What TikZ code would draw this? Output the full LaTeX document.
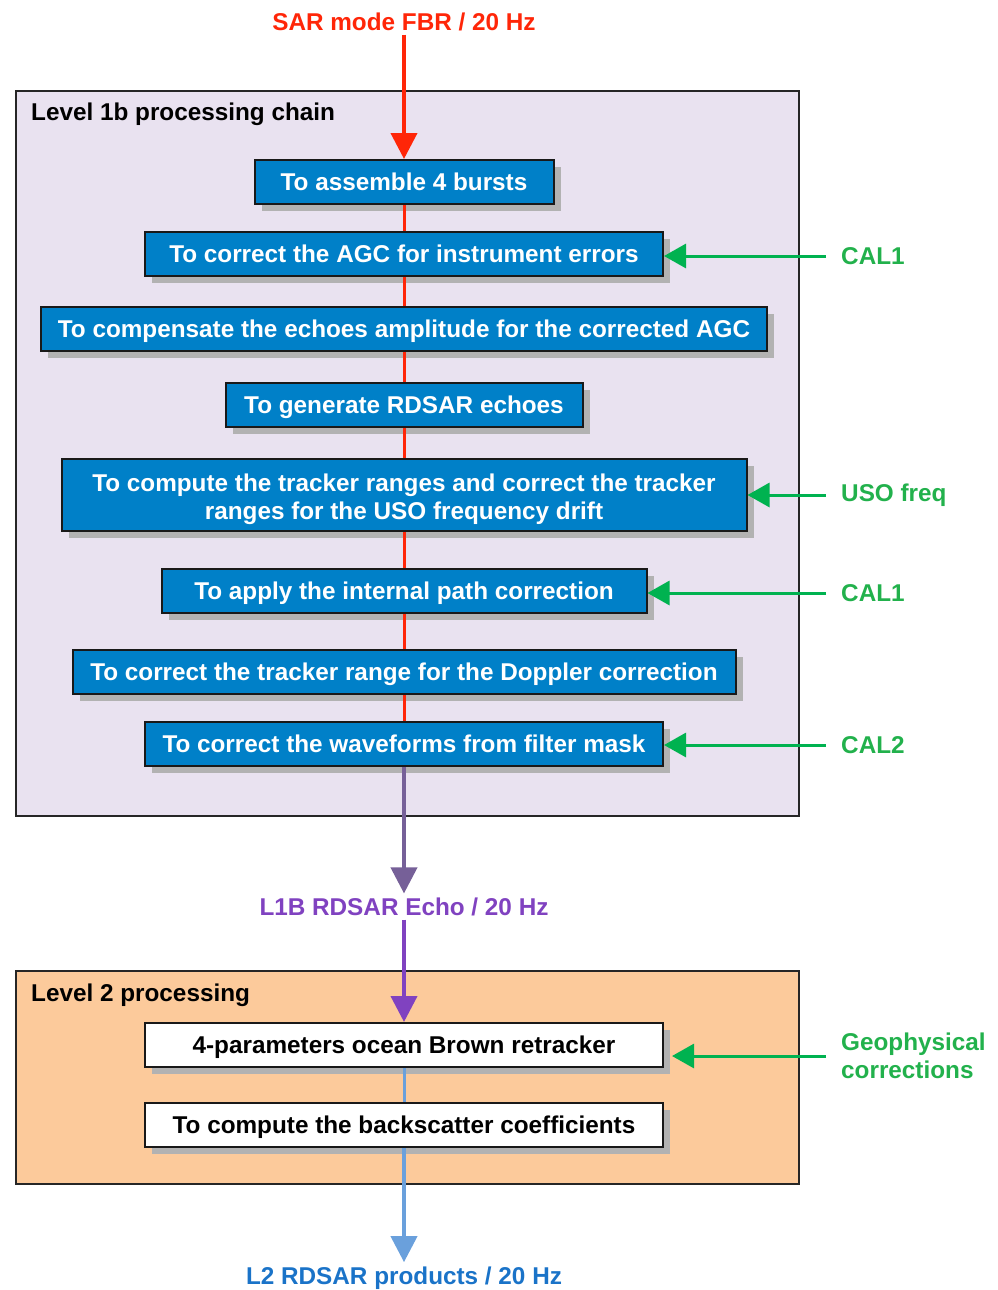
\documentclass[tikz,border=0pt]{standalone}
\usepackage{fontspec}
\setmainfont{Liberation Sans}
\usetikzlibrary{arrows.meta,shadows}
\definecolor{chainred}{RGB}{255,38,8}
\definecolor{lavender}{RGB}{233,226,240}
\definecolor{peach}{RGB}{252,202,155}
\definecolor{boxblue}{RGB}{0,128,200}
\definecolor{feedgreen}{RGB}{0,178,80}
\definecolor{textgreen}{RGB}{34,177,76}
\definecolor{greypurple}{RGB}{118,96,152}
\definecolor{echopurple}{RGB}{128,66,192}
\definecolor{lightblue}{RGB}{106,160,220}
\definecolor{prodblue}{RGB}{26,115,200}
\begin{document}
\begin{tikzpicture}[x=1pt,y=-1pt,
    every node/.style={font=\fontsize{24.3}{28}\selectfont\bfseries},
    panel/.style={draw=black!85,line width=2pt,anchor=north west,inner sep=0pt},
    stepbox/.style={draw=black!90,line width=2pt,fill=boxblue,text=white,minimum height=44,inner sep=0pt,
      text height=17.5pt,text depth=0pt,
      drop shadow={shadow xshift=7pt,shadow yshift=-7pt,fill=black!30,opacity=1}},
    twoline/.style={stepbox,text height=48.5pt,text depth=-2pt,minimum height=72,align=center},
    whitebox/.style={stepbox,fill=white,text=black},
    inlabel/.style={inner sep=0pt,text=textgreen,anchor=west,align=left},
    feed/.style={draw=feedgreen,line width=3pt,shorten <=15pt,-{Triangle[length=22pt,width=24pt]}},
    link/.style={line width=3pt},
    flow/.style={line width=4pt,-{Triangle[length=26pt,width=26pt]}}]
  \useasboundingbox (0,0) rectangle (997,1290);
  % the two processing stages
  \node[panel,fill=lavender,minimum width=783,minimum height=725] (l1) at (15,90) {};
  \node[panel,fill=peach,minimum width=783,minimum height=213] (l2) at (15,970) {};
  \node[anchor=west,inner sep=0pt] (t1) at (31,114) {Level 1b processing chain};
  \node[anchor=west,inner sep=0pt] (t2) at (31,995) {Level 2 processing};
  % level 1b steps
  \node[stepbox,minimum width=299] (b1) at (404,182) {To assemble 4 bursts};
  \node[stepbox,minimum width=518] (b2) at (404,254) {To correct the AGC for instrument errors};
  \node[stepbox,minimum width=726] (b3) at (404,329) {To compensate the echoes amplitude for the corrected AGC};
  \node[stepbox,minimum width=357] (b4) at (404,405) {To generate RDSAR echoes};
  \node[twoline,minimum width=685] (b5) at (404,495)
    {To compute the tracker ranges and correct the tracker\\ranges for the USO frequency drift};
  \node[stepbox,minimum width=485] (b6) at (404,591) {To apply the internal path correction};
  \node[stepbox,minimum width=663] (b7) at (404,672) {To correct the tracker range for the Doppler correction};
  \node[stepbox,minimum width=518] (b8) at (404,744) {To correct the waveforms from filter mask};
  % level 2 steps
  \node[whitebox,minimum width=518] (b9) at (404,1045) {4-parameters ocean Brown retracker};
  \node[whitebox,minimum width=518] (b10) at (404,1125) {To compute the backscatter coefficients};
  % inputs and outputs
  \node[text=chainred] (sar) at (404,22) {SAR mode FBR / 20 Hz};
  \node[text=echopurple] (echo) at (404,907) {L1B RDSAR Echo / 20 Hz};
  \node[text=prodblue] (prod) at (404,1278) {L2 RDSAR products / 20 Hz};
  \node[inlabel] (cala) at (841,256) {CAL1};
  \node[inlabel] (uso) at (841,495) {USO freq};
  \node[inlabel] (calb) at (841,593) {CAL1};
  \node[inlabel] (calc) at (841,745) {CAL2};
  \node[inlabel] (geo) at (841,1056) {Geophysical\\corrections};
  \coordinate (geoin) at (672,1056);
  % connectors
  \draw[flow,chainred] (sar) -- (b1);
  \foreach \a/\b in {b1/b2,b2/b3,b3/b4,b4/b5,b5/b6,b6/b7,b7/b8}
    \draw[link,chainred] (\a) -- (\b);
  \draw[flow,greypurple,shorten >=1pt] (b8) -- (echo);
  \draw[flow,echopurple] (echo) -- (b9);
  \draw[link,lightblue] (b9) -- (b10);
  \draw[flow,lightblue,shorten >=1pt] (b10) -- (prod);
  \draw[feed] (cala.west) -- (cala.west -| b2.east);
  \draw[feed] (uso.west) -- (uso.west -| b5.east);
  \draw[feed] (calb.west) -- (calb.west -| b6.east);
  \draw[feed] (calc.west) -- (calc.west -| b8.east);
  \draw[feed] (geo.west) -- (geoin);
\end{tikzpicture}
\end{document}
